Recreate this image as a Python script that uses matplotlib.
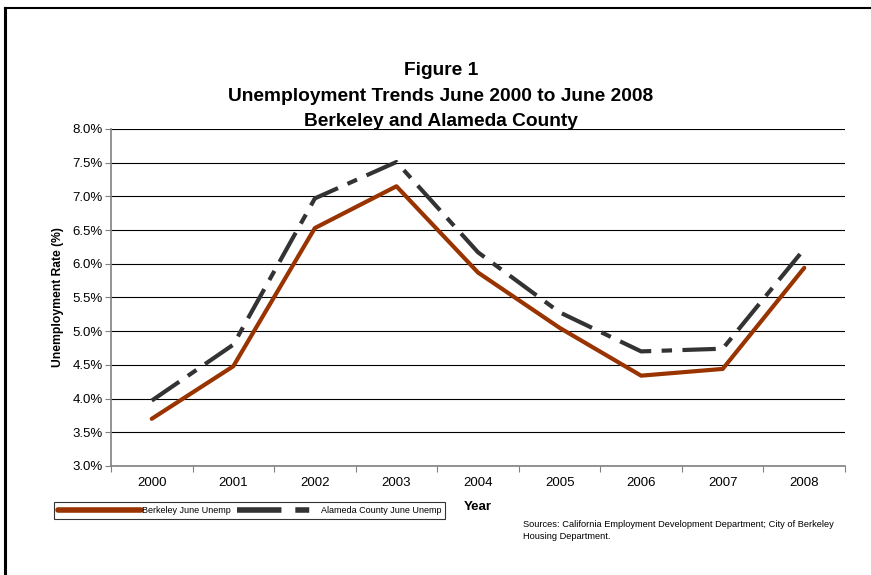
import matplotlib
matplotlib.use('Agg')
import matplotlib.pyplot as plt
from matplotlib.ticker import FuncFormatter, MultipleLocator
from matplotlib.lines import Line2D

plt.rcParams['font.family'] = ['Liberation Sans', 'DejaVu Sans']

years = ['2000', '2001', '2002', '2003', '2004', '2005', '2006', '2007', '2008']
berkeley = [3.70, 4.48, 6.53, 7.15, 5.87, 5.05, 4.34, 4.44, 5.94]
alameda = [3.97, 4.80, 6.97, 7.51, 6.17, 5.28, 4.70, 4.74, 6.22]

fig = plt.figure(figsize=[8.71, 5.75], dpi=100)
ax = fig.add_axes([0.1274, 0.1896, 0.8428, 0.5861])

x = range(len(years))
ax.plot(x, berkeley, color='#993300', linewidth=3, solid_capstyle='round',
        label='Berkeley June Unemp', zorder=3)
ax.plot(x, alameda, color='#333333', linewidth=3,
        linestyle=(0, (8, 2.5, 2.5, 2.5)), dash_capstyle='butt',
        label='Alameda County June Unemp', zorder=2)

ax.set_xlim(-0.5, len(years) - 0.5)
ax.set_ylim(3.0, 8.0)
ax.yaxis.set_major_locator(MultipleLocator(0.5))
ax.yaxis.set_major_formatter(FuncFormatter(lambda v, p: '%.1f%%' % v))
ax.set_xticks([i + 0.5 for i in range(-1, len(years))])
ax.set_xticklabels([])
ax.set_xticks(list(x), minor=True)
ax.set_xticklabels(years, minor=True)
ax.tick_params(axis='x', which='minor', length=0, pad=8, labelsize=9.5)
ax.tick_params(axis='x', which='major', length=4, direction='out', color='#808080')
ax.tick_params(axis='y', length=4, direction='out', color='#808080', labelsize=9.5, pad=2)

ax.grid(axis='y', color='black', linewidth=0.8)
ax.set_axisbelow(True)
for s in ['top', 'right']:
    ax.spines[s].set_visible(False)
for s in ['left', 'bottom']:
    ax.spines[s].set_color('#808080')
    ax.spines[s].set_linewidth(1.2)

ax.set_ylabel('Unemployment Rate (%)', fontsize=8.75, fontweight='bold', labelpad=6)

fig.text(0.506, 0.878, 'Figure 1', ha='center', va='center', fontsize=13.8, fontweight='bold')
fig.text(0.506, 0.833, 'Unemployment Trends June 2000 to June 2008', ha='center', va='center',
         fontsize=13.8, fontweight='bold')
fig.text(0.506, 0.788, 'Berkeley and Alameda County', ha='center', va='center',
         fontsize=13.8, fontweight='bold')

fig.text(0.549, 0.119, 'Year', ha='center', va='center', fontsize=9.5, fontweight='bold')
fig.text(0.600, 0.096, 'Sources: California Employment Development Department; City of Berkeley\nHousing Department.',
         ha='left', va='top', fontsize=6.7, linespacing=1.5)

handles = [Line2D([], [], color='#993300', linewidth=4, solid_capstyle='round'),
           Line2D([], [], color='#333333', linewidth=4, linestyle=(0, (8, 2.5, 2.5, 2.5)))]
leg = fig.legend(handles, ['Berkeley June Unemp', 'Alameda County June Unemp'],
                 loc='center left', bbox_to_anchor=(0.062, 0.112), ncol=2,
                 fontsize=6.5, handlelength=9.2, handletextpad=0.1, columnspacing=0.7,
                 frameon=True, fancybox=False, borderpad=0.4, borderaxespad=0)
leg.get_frame().set_edgecolor('black')
leg.get_frame().set_linewidth(0.8)

# outer frame: left and top edges only, as in the original
fig.add_artist(Line2D([0.006, 0.006], [0.0, 0.986], color='black', linewidth=2.2))
fig.add_artist(Line2D([0.006, 1.0], [0.986, 0.986], color='black', linewidth=1.5))

fig.savefig('out.png', dpi=100)
